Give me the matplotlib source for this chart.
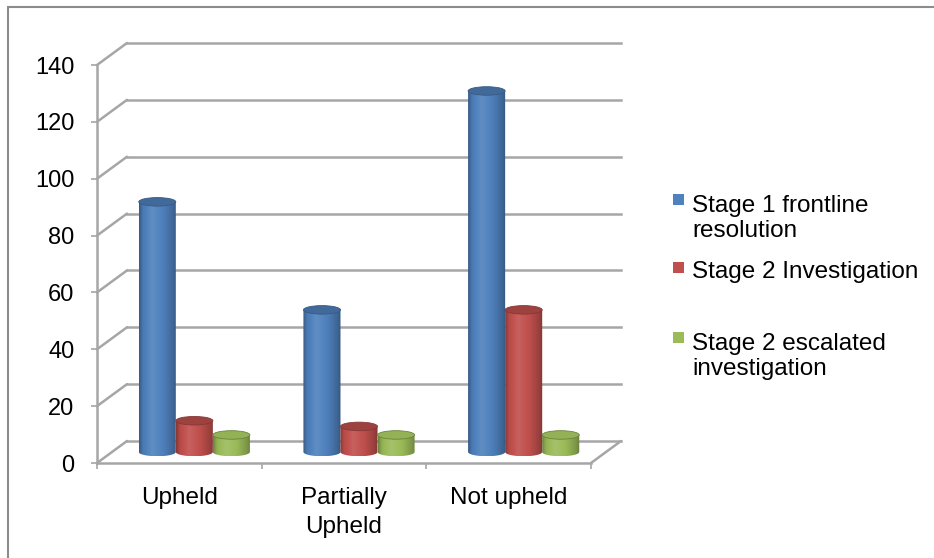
import numpy as np
import matplotlib
matplotlib.use("Agg")
import matplotlib.pyplot as plt
from matplotlib.patches import Rectangle, Ellipse, PathPatch, ConnectionPatch
from matplotlib.path import Path
from matplotlib.transforms import ScaledTranslation
from matplotlib.colors import to_rgb

categories = ["Upheld", "Partially\nUpheld", "Not upheld"]
series = ["Stage 1 frontline\nresolution", "Stage 2 Investigation",
          "Stage 2 escalated\ninvestigation"]
frontline = [88, 50, 127]
investigation = [11, 9, 50]
escalated = [6, 6, 6]
colors = ["#4f81bd", "#c0504d", "#9bbb59"]
yticks = [0, 20, 40, 60, 80, 100, 120, 140]

plt.rcParams['font.family'] = ['Liberation Sans', 'DejaVu Sans']

W, H = 934, 558
fig = plt.figure(figsize=(W / 100, H / 100), dpi=100)
ax = fig.add_axes([97 / W, 1 - 463 / H, (591 - 97) / W, (463 - 65) / H])
ax.patch.set_visible(False)

grid = '#a6a6a6'
# depth offsets for the fake 3d box: back wall and the plane the bars stand on
back = ax.transData + ScaledTranslation(0.30, 0.22, fig.dpi_scale_trans)
mid = ax.transData + ScaledTranslation(0.15, 0.11, fig.dpi_scale_trans)

for v in yticks:
    ax.plot([0, 3], [v, v], color=grid, lw=1.8, transform=back, clip_on=False, zorder=1)
    ax.add_artist(ConnectionPatch((0, v), (0, v), coordsA=ax.transData, coordsB=back,
                                  color=grid, lw=1.8, zorder=1, clip_on=False))
ax.add_artist(ConnectionPatch((3, 0), (3, 0), coordsA=ax.transData, coordsB=back,
                              color=grid, lw=1.8, zorder=1, clip_on=False))


def shade(c, k):
    c = np.array(to_rgb(c))
    if k >= 1:
        return np.clip(c + (1 - c) * (k - 1), 0, 1)
    return c * k


t = np.linspace(0, 1, 80)
profile = np.interp(t, [0, 0.1, 0.35, 0.65, 0.9, 1], [0.7, 0.94, 1.1, 0.98, 0.8, 0.68])

values = [frontline, investigation, escalated]
bw = 0.225
cap = 3.0
arc = np.linspace(np.pi, 2 * np.pi, 30)

for j, (vals, c) in enumerate(zip(values, colors)):
    grad = np.array([shade(c, k) for k in profile])[None, :, :]
    for i, v in enumerate(vals):
        xc = i + 0.5 + (j - 1) * bw
        x0, x1 = xc - bw / 2, xc + bw / 2
        verts = [(x0, v), (x0, 0)]
        verts += list(zip(xc + bw / 2 * np.cos(arc), cap / 2 * np.sin(arc)))
        verts += [(x1, v), (x0, v)]
        body = PathPatch(Path(verts), transform=mid)
        im = ax.imshow(grad, extent=(x0, x1, -cap / 2, v), transform=mid,
                       aspect='auto', interpolation='bilinear', zorder=3)
        im.set_clip_path(body)
        k_top = 0.95 if j == 2 else 0.82
        ax.add_patch(Ellipse((xc, v), bw, cap, transform=mid, facecolor=shade(c, k_top),
                             edgecolor=shade(c, 0.7), lw=0.6, zorder=4, clip_on=False))

ax.set_xlim(0, 3)
ax.set_ylim(0, 140)
for s in ['top', 'right']:
    ax.spines[s].set_visible(False)
for s in ['left', 'bottom']:
    ax.spines[s].set_color(grid)
    ax.spines[s].set_linewidth(1.8)

ax.set_yticks(yticks)
ax.tick_params(axis='y', length=4.3, width=1.2, color=grid, pad=12, labelsize=17)
ax.set_xticks([0.5, 1.5, 2.5], categories, linespacing=1.45)
ax.set_xticks([0, 1, 2, 3], minor=True)
ax.tick_params(axis='x', which='major', length=0, pad=17, labelsize=17.5)
ax.tick_params(axis='x', which='minor', length=4.3, width=1.2, color=grid)

# legend: square sits on the first line, text baseline given for the last line
for name, c, top, last in zip(series, colors, [210, 278, 348], [237, 278, 375]):
    fig.patches.append(Rectangle((673 / W, 1 - (top - 5) / H), 11 / W, 11 / H,
                                 transform=fig.transFigure, facecolor=c, edgecolor='none'))
    fig.text(692 / W, 1 - last / H, name, fontsize=17.5, va='baseline', linespacing=1.2)

fig.patches.append(Rectangle((8 / W, -0.1), 1.2, 1 - 7 / H + 0.1, transform=fig.transFigure,
                             fill=False, edgecolor='#8c8c8c', lw=1.5))

fig.savefig('out.png', dpi=100)
